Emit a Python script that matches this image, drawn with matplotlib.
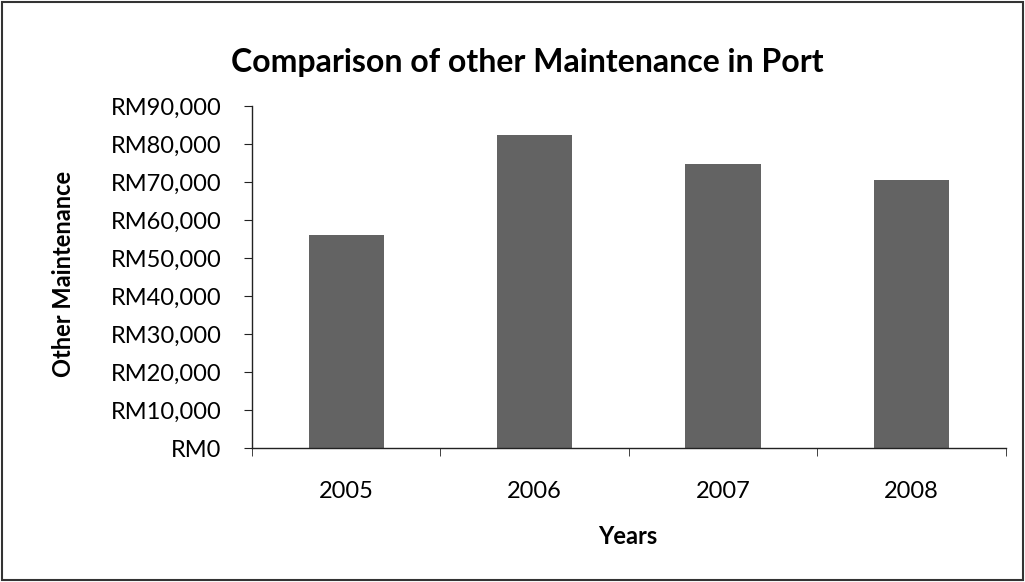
import matplotlib.pyplot as plt
from matplotlib.patches import Rectangle
from matplotlib.ticker import FuncFormatter

years = ['2005', '2006', '2007', '2008']
other_maintenance = [56000, 82300, 74600, 70400]

plt.rcParams['font.family'] = ['Lato', 'DejaVu Sans']

fig = plt.figure(figsize=(10.25, 5.82), dpi=100)
ax = fig.add_axes([0.246, 0.230, 0.735, 0.588])

x = range(len(years))
ax.bar(x, other_maintenance, width=0.4, color='#636363')

ax.set_xlim(-0.5, len(years) - 0.5)
ax.set_ylim(0, 90000)
ax.set_yticks(range(0, 90001, 10000))
ax.yaxis.set_major_formatter(FuncFormatter(lambda v, p: f'RM{int(v):,}'))
ax.set_xticks(list(x))
ax.set_xticklabels(years)
ax.set_xticks([i - 0.5 for i in range(len(years) + 1)], minor=True)
ax.tick_params(axis='x', which='major', length=0, pad=24, labelsize=17)
ax.tick_params(axis='x', which='minor', length=6, direction='out', color='#222222')
ax.tick_params(axis='y', length=6, direction='out', labelsize=17, pad=16, color='#222222')

for s in ['top', 'right']:
    ax.spines[s].set_visible(False)
for s in ['left', 'bottom']:
    ax.spines[s].set_color('#222222')
    ax.spines[s].set_linewidth(1.0)

fig.text(0.514, 0.893, 'Comparison of other Maintenance in Port', ha='center', va='center',
         fontsize=23, fontweight='bold')
fig.text(0.612, 0.079, 'Years', ha='center', va='center', fontsize=17, fontweight='bold')
fig.text(0.062, 0.53, 'Other Maintenance', ha='center', va='center', rotation=90,
         fontsize=17, fontweight='bold')

fig.patches.append(Rectangle((0.002, 0.003), 0.996, 0.994, transform=fig.transFigure,
                             fill=False, edgecolor='#333333', linewidth=1.5))

fig.savefig('out.png', dpi=100)
plt.close(fig)
